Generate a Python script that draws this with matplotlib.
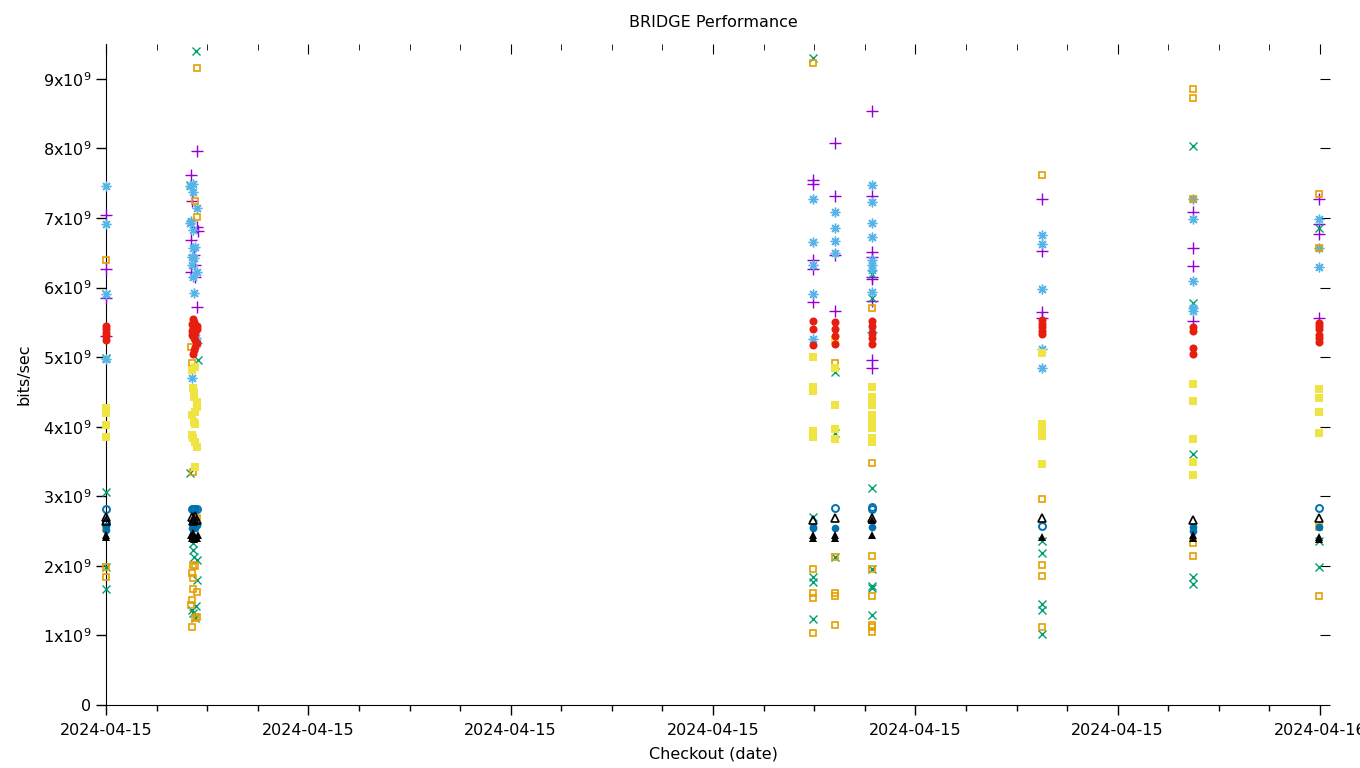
import matplotlib
matplotlib.use("Agg")
import matplotlib.pyplot as plt
import matplotlib.dates as mdates
import numpy as np
import pandas as pd
from matplotlib.ticker import FuncFormatter, MultipleLocator

DAY = "2024-04-15"

# values in units of 1e9 bits/sec, times are HH:MM on 2024-04-15
purple_t = ["00:00"] * 4 + ["01:48", "01:41", "01:42", "01:48", "01:49", "01:41", "01:44", "01:46", "01:41", "01:46", "01:48"] \
    + ["13:59"] * 5 + ["14:25"] * 4 + ["15:09"] * 9 + ["18:30"] * 4 + ["21:29"] * 4 + ["23:59"] * 4
purple_v = [7.04, 6.27, 5.85, 5.30,
            7.96, 7.62, 7.25, 6.87, 6.81, 6.68, 6.47, 6.33, 6.22, 6.15, 5.72,
            7.55, 7.49, 6.40, 6.27, 5.79,
            8.08, 7.32, 6.47, 5.66,
            8.54, 7.32, 6.51, 6.44, 6.15, 6.12, 5.80, 4.96, 4.84,
            7.27, 6.53, 5.65, 5.56,
            7.09, 6.57, 6.31, 5.52,
            7.27, 6.91, 6.77, 5.56]

green_t = ["00:00"] * 5 + ["01:47", "01:40", "01:49", "01:40", "01:43", "01:43", "01:44", "01:48", "01:48", "01:42", "01:47", "01:46", "01:43"] \
    + ["13:59"] * 5 + ["14:25"] * 3 + ["15:09"] * 7 + ["18:30"] * 5 + ["21:29"] * 5 + ["23:59"] * 3
green_v = [5.91, 4.98, 3.06, 1.98, 1.67,
           9.40, 7.48, 4.96, 3.34, 2.33, 2.23, 2.13, 2.08, 1.80, 1.37, 1.42, 1.25, 1.32,
           9.30, 2.70, 1.84, 1.77, 1.24,
           4.79, 3.91, 2.13,
           6.20, 5.85, 3.12, 1.95, 1.71, 1.68, 1.29,
           2.35, 2.18, 1.45, 1.37, 1.02,
           8.04, 5.78, 3.61, 1.84, 1.74,
           6.86, 2.36, 1.98]

sky_t = ["00:00"] * 4 + ["01:43", "01:43", "01:48", "01:41", "01:43", "01:46", "01:43", "01:42", "01:44", "01:42", "01:48", "01:43", "01:44", "01:48", "01:42", "01:47", "01:40", "01:40"] \
    + ["13:59"] * 5 + ["14:25"] * 4 + ["15:09"] * 9 + ["18:30"] * 5 + ["21:29"] * 5 + ["23:59"] * 3
sky_v = [7.46, 6.92, 5.91, 4.97,
         7.49, 7.38, 7.15, 6.95, 6.83, 6.58, 6.57, 6.44, 6.42, 6.33, 6.22, 6.15, 5.92, 5.20, 4.70, 5.27, 6.93, 7.46,
         7.27, 6.66, 6.33, 5.91, 5.26,
         7.09, 6.86, 6.67, 6.50,
         7.47, 7.23, 6.93, 6.73, 6.40, 6.33, 6.25, 5.94, 5.36,
         6.76, 6.63, 5.98, 5.12, 4.84,
         7.27, 6.98, 6.09, 5.71, 5.66,
         6.98, 6.57, 6.29]

orange_t = ["00:00"] * 4 + ["01:48", "01:46", "01:48", "01:41", "01:42", "01:43", "01:48", "01:43", "01:46", "01:42", "01:43", "01:43", "01:48", "01:42", "01:41", "01:48", "01:46", "01:42"] \
    + ["13:59"] * 5 + ["14:25"] * 5 + ["15:09"] * 8 + ["18:30"] * 5 + ["21:29"] * 5 + ["23:59"] * 4
orange_v = [6.40, 2.55, 1.98, 1.84,
            9.16, 7.25, 7.02, 5.15, 4.92, 3.35, 2.69, 2.01, 2.00, 1.90, 1.83, 1.66, 1.62, 1.51, 1.44, 1.27, 1.25, 1.12,
            9.22, 1.95, 1.61, 1.54, 1.04,
            4.92, 2.13, 1.61, 1.57, 1.15,
            5.71, 3.48, 2.14, 1.96, 1.57, 1.15, 1.12, 1.05,
            7.62, 2.96, 2.01, 1.85, 1.12,
            8.86, 8.72, 7.27, 2.33, 2.14,
            7.35, 6.57, 2.56, 1.57]

yellow_t = ["00:00"] * 4 + ["01:46", "01:42", "01:43", "01:44", "01:48", "01:48", "01:46", "01:42", "01:44", "01:46", "01:42", "01:43", "01:46", "01:48", "01:46", "01:44"] \
    + ["13:59"] * 5 + ["14:25"] * 5 + ["15:09"] * 8 + ["18:30"] * 5 + ["21:29"] * 5 + ["23:59"] * 4
yellow_v = [4.27, 4.20, 4.03, 3.85,
            4.86, 4.82, 4.56, 4.43, 4.36, 4.28, 4.21, 4.17, 4.07, 4.04, 3.88, 3.84, 3.78, 3.71, 3.42, 4.50,
            5.00, 4.57, 4.52, 3.94, 3.85,
            5.25, 4.84, 4.31, 3.97, 3.82,
            4.57, 4.43, 4.31, 4.17, 4.07, 3.98, 3.84, 3.78,
            5.06, 4.04, 3.96, 3.86, 3.46,
            4.61, 4.37, 3.82, 3.49, 3.31,
            4.54, 4.41, 4.21, 3.91]

ring_t = ["00:00"] * 2 + ["01:42", "01:44", "01:46", "01:48", "01:43"] + ["14:25"] + ["15:09"] * 2 + ["18:30"] + ["23:59"]
ring_v = [2.82, 2.62, 2.82, 2.82, 2.82, 2.82, 2.81, 2.83, 2.85, 2.82, 2.57, 2.83]

dot_t = ["00:00"] * 2 + ["01:43", "01:44", "01:46", "01:48", "01:42"] + ["13:59"] * 2 + ["14:25"] + ["15:09"] + ["21:29"] * 2 + ["23:59"]
dot_v = [2.57, 2.52, 2.60, 2.57, 2.55, 2.58, 2.55, 2.56, 2.54, 2.55, 2.56, 2.56, 2.50, 2.56]

red_t = ["00:00"] * 5 + ["01:43", "01:44", "01:42", "01:46", "01:43", "01:48", "01:42", "01:44", "01:46", "01:42", "01:43", "01:44", "01:46", "01:48", "01:46", "01:44", "01:43", "01:48"] \
    + ["13:59"] * 3 + ["14:25"] * 4 + ["15:09"] * 5 + ["18:30"] * 5 + ["21:29"] * 4 + ["23:59"] * 6
red_v = [5.45, 5.40, 5.35, 5.30, 5.25,
         5.55, 5.50, 5.47, 5.44, 5.42, 5.40, 5.38, 5.36, 5.34, 5.32, 5.30, 5.27, 5.24, 5.20, 5.15, 5.10, 5.05, 5.45,
         5.52, 5.40, 5.18,
         5.51, 5.40, 5.31, 5.19,
         5.52, 5.45, 5.35, 5.28, 5.19,
         5.53, 5.48, 5.43, 5.38, 5.33,
         5.43, 5.38, 5.13, 5.05,
         5.49, 5.44, 5.40, 5.32, 5.27, 5.22]

tri_t = ["00:00"] * 2 + ["01:42", "01:44", "01:46", "01:48", "01:43"] + ["13:59", "14:25", "15:09", "18:30", "21:29", "23:59"]
tri_v = [2.70, 2.64, 2.70, 2.68, 2.72, 2.66, 2.65, 2.66, 2.69, 2.69, 2.69, 2.66, 2.69]

trif_t = ["00:00"] * 2 + ["01:41", "01:42", "01:43", "01:44", "01:46", "01:48", "01:49", "01:43"] \
    + ["13:59"] * 2 + ["14:25"] * 2 + ["15:09"] * 2 + ["18:30"] + ["21:29"] * 2 + ["23:59"] * 2
trif_v = [2.45, 2.41, 2.45, 2.40, 2.43, 2.38, 2.42, 2.40, 2.44, 2.47,
          2.44, 2.40, 2.44, 2.40, 2.66, 2.44, 2.42, 2.44, 2.40, 2.42, 2.39]


def when(ts):
    return pd.to_datetime([f"{DAY} {t}" for t in ts])


def gbit(vs):
    return np.array(vs) * 1e9


fig = plt.figure(figsize=(13.6, 7.68), dpi=100)
ax = fig.add_axes([106 / 1360, 1 - 705 / 768, (1320 - 106) / 1360, (705 - 44) / 768])

styles = [
    (purple_t, purple_v, dict(marker="+", color="#9400d3", ms=8, mew=1.0)),
    (green_t, green_v, dict(marker="x", color="#009e73", ms=5.5, mew=1.0)),
    (sky_t, sky_v, dict(marker=(8, 2, 0), color="#56b4e9", ms=7, mew=1.0)),
    (orange_t, orange_v, dict(marker="s", color="#e69f00", ms=5, mew=1.2, mfc="none")),
    (yellow_t, yellow_v, dict(marker="s", color="#f0e442", ms=5.2, mew=0)),
    (ring_t, ring_v, dict(marker="o", color="#0072b2", ms=5, mew=1.4, mfc="none")),
    (dot_t, dot_v, dict(marker="o", color="#0072b2", ms=5.5, mew=0)),
    (red_t, red_v, dict(marker="o", color="#e51e10", ms=5.8, mew=0)),
    (tri_t, tri_v, dict(marker="^", color="black", ms=6.2, mew=1.2, mfc="none")),
    (trif_t, trif_v, dict(marker="^", color="black", ms=6.2, mew=0)),
]
for ts, vs, st in styles:
    ax.plot(when(ts), gbit(vs), linestyle="none", clip_on=False, zorder=3, **st)

start = pd.Timestamp(f"{DAY} 00:00")
ax.set_xlim(start, start + pd.Timedelta(hours=24))
ax.set_ylim(0, 9.5e9)

fs = 11.5
ax.xaxis.set_major_locator(mdates.HourLocator(interval=4))
ax.xaxis.set_minor_locator(mdates.HourLocator(interval=1))
ax.xaxis.set_major_formatter(mdates.DateFormatter("%Y-%m-%d"))
ax.yaxis.set_major_locator(MultipleLocator(1e9))
ax.yaxis.set_major_formatter(FuncFormatter(
    lambda v, p: "0" if abs(v) < 1 else f"{int(round(v / 1e9))}x10$^{{9}}$"))

for s in ("top", "right"):
    ax.spines[s].set_visible(False)
ax.tick_params(axis="both", which="major", direction="out", length=7, width=1, labelsize=fs)
ax.tick_params(axis="x", which="minor", direction="out", length=4, width=1)
ax.tick_params(axis="x", pad=6)

top = ax.secondary_xaxis("top")
top.xaxis.set_major_locator(mdates.HourLocator(interval=4))
top.xaxis.set_minor_locator(mdates.HourLocator(interval=1))
top.tick_params(which="major", direction="in", length=7, labeltop=False)
top.tick_params(which="minor", direction="in", length=4)
top.spines["top"].set_visible(False)

right = ax.secondary_yaxis("right")
right.yaxis.set_major_locator(MultipleLocator(1e9))
right.tick_params(direction="out", length=7, labelright=False)
right.spines["right"].set_visible(False)

ax.set_title("BRIDGE Performance", fontsize=fs, pad=12)
ax.set_xlabel("Checkout (date)", fontsize=fs, labelpad=6)
ax.set_ylabel("bits/sec", fontsize=fs, labelpad=8)

fig.savefig("out.png", dpi=100)
